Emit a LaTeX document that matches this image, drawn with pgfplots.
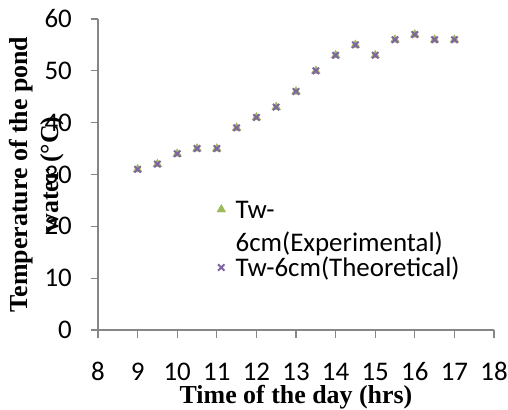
\documentclass[border=0pt]{standalone}
\usepackage{fontspec}
\setmainfont{Carlito}
\newfontfamily\tnr{Liberation Serif}
\usepackage{pgfplots}
\pgfplotsset{compat=1.18}
\definecolor{axgray}{HTML}{868686}
\definecolor{tgreen}{HTML}{9BBB59}
\definecolor{xpurple}{HTML}{8064A2}
\pgfplotstableread{
t T
9 31
9.5 32
10 34
10.5 35
11 35
11.5 39
12 41
12.5 43
13 46
13.5 50
14 53
14.5 55
15 53
15.5 56
16 57
16.5 56
17 56
}\expdata
\pgfplotstableread{
t T
9 31
9.5 32
10 34
10.5 35
11 35
11.5 39
12 41
12.5 43
13 46
13.5 50
14 53
14.5 55
15 53
15.5 56
16 57
16.5 56
17 56
}\thdata
\begin{document}
\begin{tikzpicture}
\begin{axis}[
  at={(98bp,80bp)}, anchor=south west,
  width=396bp, height=311bp, scale only axis,
  xmin=8, xmax=18, ymin=0, ymax=60,
  xtick={8,9,...,18}, ytick={0,10,...,60},
  axis lines=left,
  axis line style={axgray, line width=1.3bp, -},
  tick style={axgray, line width=1.3bp},
  tick align=outside, major tick length=7.5bp,
  /pgf/number format/assume math mode=true,
  tick label style={font=\fontsize{27}{32}\selectfont, inner sep=0pt},
  xticklabel style={anchor=base, yshift=-42.5bp},
  yticklabel style={anchor=east, xshift=-18.5bp},
  xlabel={Time of the day (hrs)},
  ylabel={Temperature of the pond\\water (°C)},
  xlabel style={font=\tnr\bfseries\fontsize{26}{31}\selectfont, at={(axis description cs:0.5,-0.235)}, anchor=base, inner sep=0pt},
  ylabel style={font=\tnr\bfseries\fontsize{26}{31}\selectfont, align=center, at={(axis description cs:-0.155,0.5)}, anchor=center, inner sep=0pt},
  legend style={draw=none, fill=none, at={(axis description cs:0.3005,0.4148)}, anchor=north west,
    inner sep=0pt, outer sep=0pt, font=\fontsize{27}{32}\selectfont, row sep=41bp, column sep=10bp,
    nodes={inner sep=0pt, text height=17bp, text depth=0pt}},
  legend cell align=left,
  legend image code/.code={\draw[#1] plot coordinates {(0bp,0bp)};},
]
\addplot[only marks, mark=triangle*, mark size=5bp, color=tgreen] table[x=t,y=T] {\expdata};
\addlegendentry{\rlap{\raisebox{-33bp}[0pt][0pt]{6cm(Experimental)}}Tw-}
\addplot[only marks, mark=x, mark size=4.5bp, color=xpurple, line width=2bp] table[x=t,y=T] {\thdata};
\addlegendentry{Tw-6cm(Theoretical)}
\end{axis}
\pgfresetboundingbox
\path (0,0) rectangle (508bp,410bp);
\end{tikzpicture}
\end{document}
